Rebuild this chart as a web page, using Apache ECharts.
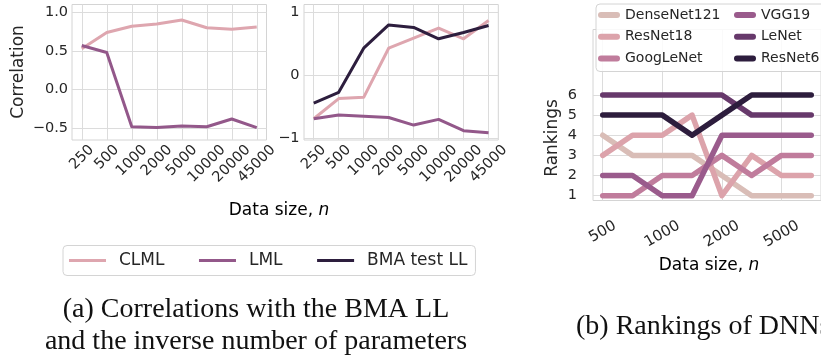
<!DOCTYPE html>
<html>
<head>
<meta charset="utf-8">
<script src="https://cdn.jsdelivr.net/npm/echarts@6/dist/echarts.min.js"></script>
<style>
  html, body { margin: 0; padding: 0; background: #fff; }
  #chart { width: 821px; height: 360px; }
</style>
</head>
<body>
<div id="chart"></div>
<script>
// ---- data ----------------------------------------------------------------
const dataSizes = ['250', '500', '1000', '2000', '5000', '10000', '20000', '45000'];

// correlation with the inverse number of parameters
const clmlVsParams = [0.53, 0.74, 0.82, 0.85, 0.90, 0.80, 0.78, 0.81];
const lmlVsParams  = [0.57, 0.48, -0.48, -0.49, -0.47, -0.48, -0.38, -0.49];

// correlation with the BMA test log-likelihood
const clmlVsBma = [-0.69, -0.37, -0.35, 0.43, 0.59, 0.75, 0.58, 0.87];
const lmlVsBma  = [-0.69, -0.63, -0.65, -0.67, -0.79, -0.70, -0.88, -0.91];
const bmaTestLL = [-0.44, -0.27, 0.43, 0.80, 0.76, 0.58, 0.68, 0.79];

const corrTicksLeft = [-0.5, 0, 0.5, 1.0];
const corrTicksMid  = [-1, 0, 1];

// DNN rankings over eight data sizes; tick labels sit on every second step
const rankTickLabels = ['500', '1000', '2000', '5000'];
const rankTickSteps  = [0, 2, 4, 6];
const rankTicks      = [1, 2, 3, 4, 5, 6];
const denseNet121 = [4, 3, 3, 3, 2, 1, 1, 1];
const resNet18    = [3, 4, 4, 5, 1, 3, 2, 2];
const googLeNet   = [1, 1, 2, 2, 3, 2, 3, 3];
const vgg19       = [2, 2, 1, 1, 4, 4, 4, 4];
const leNet       = [6, 6, 6, 6, 6, 5, 5, 5];
const resNet6     = [5, 5, 5, 4, 5, 6, 6, 6];

// ---- styling -------------------------------------------------------------
const FONT = 'DejaVu Sans';
const SERIF = 'Liberation Serif';
const INK = '#262626';
const GRID_LINE = '#dcdcdc';
const FRAME = '#d4d4d4';

const C_CLML = '#dea6af';
const C_LML  = '#93588a';
const C_BMA  = '#2d1e3e';
const rankColors = {
  DenseNet121: '#d9bdb7',
  ResNet18: '#dca3ab',
  GoogLeNet: '#c07c9c',
  VGG19: '#9a5b8c',
  LeNet: '#67396b',
  ResNet6: '#2d1d3d'
};

const idx = a => a.map((_, i) => i);
const pairs = a => a.map((v, i) => [i, v]);
const signed = (v, d) => (v < 0 ? '\u2212' : '') + Math.abs(v).toFixed(d);

// Slanted tick labels whose rotated box is centred under the tick and
// hangs from a fixed line below the axis (padding shifts each label).
function slantRich(names, size, deg) {
  const ctx = document.createElement('canvas').getContext('2d');
  ctx.font = size + 'px "' + FONT + '"';
  const t = deg * Math.PI / 180;
  const rich = {};
  names.forEach((n, i) => {
    const s = ctx.measureText(n).width * Math.sin(t) / 2;
    rich['t' + i] = {
      fontSize: size, fontFamily: FONT, color: INK,
      padding: [2 * s * Math.cos(t), 2 * s * Math.sin(t), 0, 0]
    };
  });
  return rich;
}

function corrXAxis(gridIndex) {
  const ticks = idx(dataSizes);
  return {
    type: 'value', gridIndex, min: -0.39, max: 7.39,
    axisLine: { show: false },
    axisTick: { show: false, customValues: ticks },
    splitLine: { show: true, lineStyle: { color: GRID_LINE, width: 1 } },
    axisLabel: {
      customValues: ticks, rotate: 45, align: 'center', verticalAlign: 'middle',
      margin: 7.5,
      formatter: v => '{t' + Math.round(v) + '|' + dataSizes[Math.round(v)] + '}',
      rich: slantRich(dataSizes, 14.5, 45)
    }
  };
}

function plainYAxis(gridIndex, min, max, ticks, fmt, margin, size) {
  return {
    type: 'value', gridIndex, min, max,
    axisLine: { show: false },
    axisTick: { show: false, customValues: ticks },
    splitLine: { show: true, lineStyle: { color: GRID_LINE, width: 1 } },
    axisLabel: { customValues: ticks, formatter: fmt, margin, fontSize: size, color: INK, fontFamily: FONT }
  };
}

function corrLine(name, values, color, axis) {
  return {
    name, type: 'line', data: pairs(values), xAxisIndex: axis, yAxisIndex: axis,
    symbol: 'none', color, itemStyle: { color },
    lineStyle: { color, width: 3, join: 'round' }
  };
}

function rankLine(name, values) {
  const color = rankColors[name];
  return {
    name, type: 'line', data: pairs(values), xAxisIndex: 2, yAxisIndex: 2,
    symbol: 'none', color, itemStyle: { color },
    lineStyle: { color, width: 5.5, cap: 'round', join: 'round' }
  };
}

const capsule = 'path://M3,0L19,0A3,3,0,0,1,19,6L3,6A3,3,0,0,1,3,0Z';
function rankLegend(left, names) {
  return {
    orient: 'vertical', left, top: 7, padding: 0, itemGap: 5.7,
    itemWidth: 22, itemHeight: 6, icon: capsule, selectedMode: false,
    textStyle: { fontSize: 14, lineHeight: 16, color: INK, fontFamily: FONT },
    data: names, z: 5
  };
}

function plainText(text, x, y, size, family, opts) {
  return Object.assign({
    type: 'text', x, y, silent: true,
    style: {
      text, fontSize: size, fontFamily: family, fill: INK,
      align: 'center', verticalAlign: 'middle', textAlign: 'center', textVerticalAlign: 'middle'
    }
  }, opts || {});
}

function dataSizeTitle(x, y) {
  return {
    type: 'text', x, y, silent: true,
    style: {
      text: '{r|Data size, }{i|n}', align: 'center', verticalAlign: 'middle', textAlign: 'center', textVerticalAlign: 'middle',
      rich: {
        r: { fontSize: 17, fontFamily: FONT, color: INK },
        i: { fontSize: 17, fontFamily: FONT, fontStyle: 'italic', color: INK }
      }
    }
  };
}

const captionB = plainText('(b) Rankings of DNNs', 576, 327, 28, SERIF);
captionB.style.align = 'left';
captionB.style.textAlign = 'left';
captionB.style.fill = '#111';

const captionA1 = plainText('(a) Correlations with the BMA LL', 256, 310, 28, SERIF);
const captionA2 = plainText('and the inverse number of parameters', 256, 342, 28, SERIF);
captionA1.style.fill = captionA2.style.fill = '#111';

const option = {
  animation: false,
  backgroundColor: '#fff',
  textStyle: { fontFamily: FONT, color: INK },
  grid: [
    { left: 72, top: 4.5, width: 194.5, height: 135.5, show: true, borderColor: FRAME, borderWidth: 1, backgroundColor: 'transparent' },
    { left: 304, top: 4.5, width: 194.3, height: 135.5, show: true, borderColor: FRAME, borderWidth: 1, backgroundColor: 'transparent' },
    { left: 593, top: 29.5, width: 234, height: 171, show: true, borderColor: FRAME, borderWidth: 1, backgroundColor: 'transparent' }
  ],
  xAxis: [
    corrXAxis(0),
    corrXAxis(1),
    {
      type: 'value', gridIndex: 2, min: -0.327, max: 7.327,
      axisLine: { show: false },
      axisTick: { show: false, customValues: rankTickSteps },
      splitLine: { show: true, lineStyle: { color: GRID_LINE, width: 1 } },
      axisLabel: {
        customValues: rankTickSteps, rotate: 30, align: 'center', verticalAlign: 'middle',
        margin: 24,
        formatter: v => '{t' + (v / 2) + '|' + rankTickLabels[v / 2] + '}',
        rich: slantRich(rankTickLabels, 15, 30)
      }
    }
  ],
  yAxis: [
    plainYAxis(0, -0.651, 1.101, corrTicksLeft, v => signed(v, 1), 4, 14.5),
    plainYAxis(1, -1.027, 1.124, corrTicksMid, v => signed(v, 0), 4.5, 14.5),
    plainYAxis(2, 0.76, 9.25, rankTicks, v => String(v), 16, 14.5)
  ],
  legend: [
    {
      left: 63, top: 245.5, orient: 'horizontal',
      padding: [5, 8, 5, 6], itemGap: 34.5, itemWidth: 37, itemHeight: 3,
      icon: 'rect', selectedMode: false,
      backgroundColor: '#fff', borderColor: FRAME, borderWidth: 1, borderRadius: 4,
      textStyle: { fontSize: 17, lineHeight: 20, color: INK, fontFamily: FONT, padding: [0, 0, 0, 8] },
      data: ['CLML', 'LML', 'BMA test LL']
    },
    rankLegend(598, ['DenseNet121', 'ResNet18', 'GoogLeNet']),
    rankLegend(734, ['VGG19', 'LeNet', 'ResNet6'])
  ],
  graphic: [
    {
      type: 'rect', z: 3, silent: true,
      shape: { x: 596, y: 4, width: 240, height: 67.5, r: 4 },
      style: { fill: 'rgba(255,255,255,0.85)', stroke: FRAME, lineWidth: 1 }
    },
    plainText('Correlation', 18.5, 72, 17, FONT, { rotation: Math.PI / 2 }),
    plainText('Rankings', 553, 138, 17, FONT, { rotation: Math.PI / 2 }),
    dataSizeTitle(279, 211),
    dataSizeTitle(709, 266),
    captionA1,
    captionA2,
    captionB
  ],
  series: [
    corrLine('CLML', clmlVsParams, C_CLML, 0),
    corrLine('LML', lmlVsParams, C_LML, 0),
    corrLine('CLML', clmlVsBma, C_CLML, 1),
    corrLine('LML', lmlVsBma, C_LML, 1),
    corrLine('BMA test LL', bmaTestLL, C_BMA, 1),
    rankLine('DenseNet121', denseNet121),
    rankLine('ResNet18', resNet18),
    rankLine('GoogLeNet', googLeNet),
    rankLine('VGG19', vgg19),
    rankLine('LeNet', leNet),
    rankLine('ResNet6', resNet6)
  ]
};

const chart = echarts.init(document.getElementById('chart'), null, { renderer: 'canvas' });
chart.setOption(option);
</script>
</body>
</html>
